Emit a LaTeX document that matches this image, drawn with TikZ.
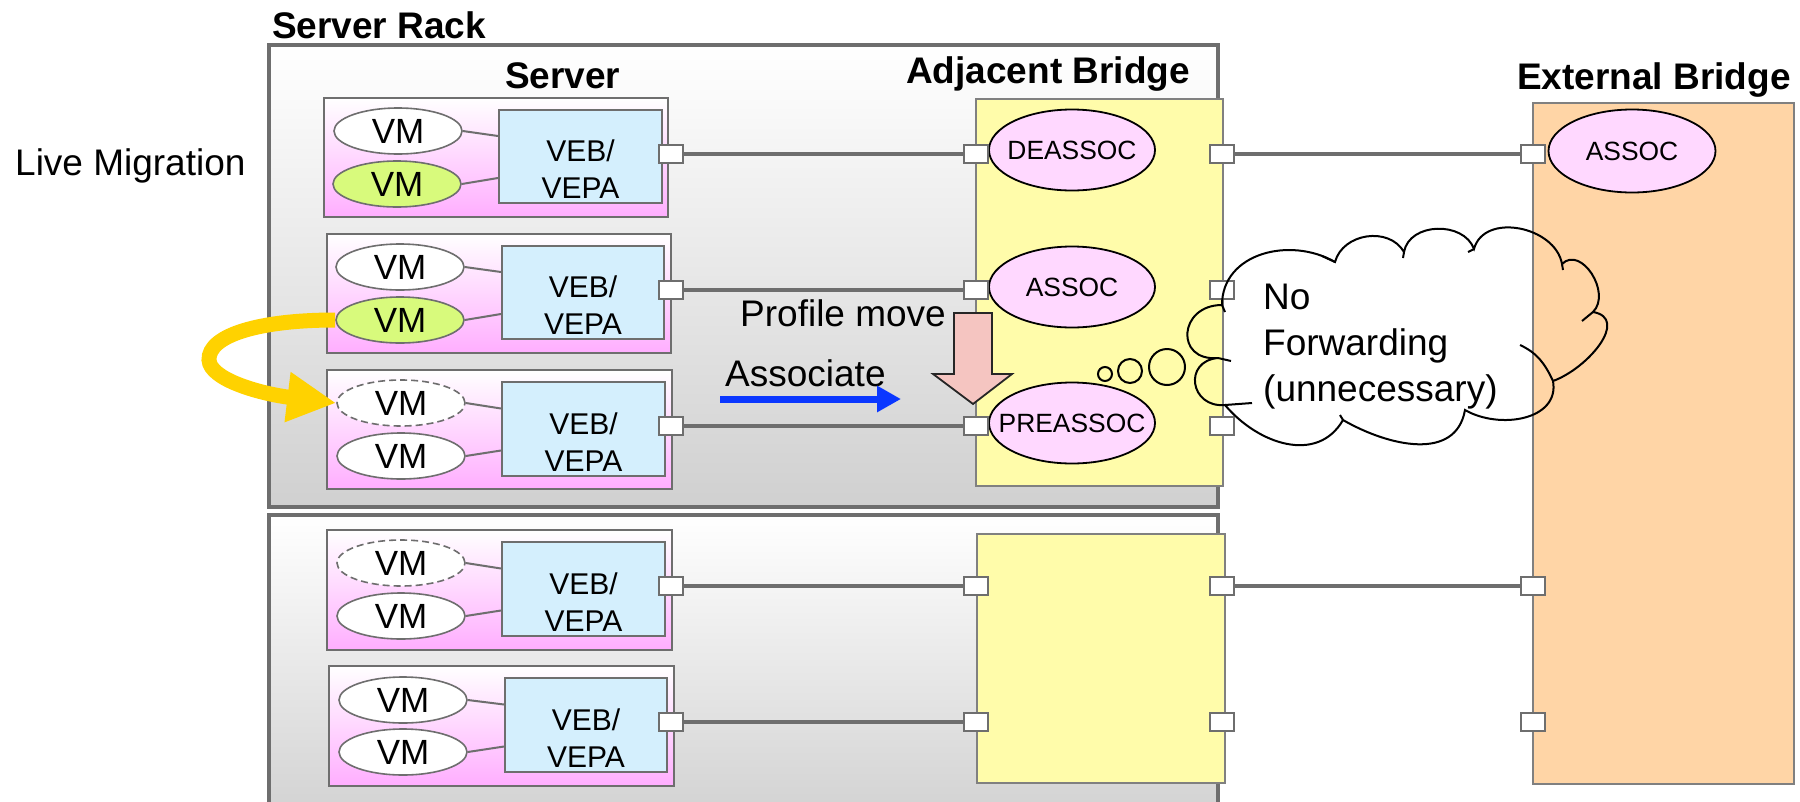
\documentclass[tikz,border=0pt]{standalone}
\usepackage{fontspec}
\setmainfont{Liberation Sans}
\usetikzlibrary{arrows.meta,shapes.geometric}
\definecolor{rackgray}{HTML}{D0D0D0}
\definecolor{edgegray}{HTML}{6E6E6E}
\definecolor{srvpink}{HTML}{FFAEFF}
\definecolor{vebblue}{HTML}{D4EFFD}
\definecolor{vmgreen}{HTML}{D8FA7C}
\definecolor{adjyellow}{HTML}{FFFCAA}
\definecolor{extorange}{HTML}{FFD5A6}
\definecolor{assocpink}{HTML}{FFD8FF}
\definecolor{movepink}{HTML}{F5C5C1}
\definecolor{assocblue}{HTML}{0A37FF}
\definecolor{migyellow}{HTML}{FFD200}
\tikzset{
  rackbox/.style={draw=edgegray, line width=3.5pt, top color=white, bottom color=rackgray},
  srvbox/.style={draw=edgegray, line width=2pt, top color=white, bottom color=srvpink},
  vebbox/.style={rectangle, draw=edgegray, line width=2pt, fill=vebblue, inner sep=0pt},
  vebtext/.style={align=center, inner sep=0pt, font=\fontsize{30}{37}\selectfont},
  vm/.style={ellipse, draw=edgegray, line width=1.6pt, fill=white, minimum width=128pt,
    minimum height=46pt, inner sep=0pt, font=\fontsize{35}{40}\selectfont},
  vmmoving/.style={vm, fill=vmgreen},
  vmghost/.style={vm, dash pattern=on 7pt off 4pt},
  vmlink/.style={draw=edgegray, line width=2pt},
  port/.style={rectangle, draw=edgegray, fill=white, line width=2pt, minimum width=24pt,
    minimum height=18pt, inner sep=0pt},
  link/.style={draw=edgegray, line width=4pt},
  adjbox/.style={rectangle, draw=gray, line width=2pt, fill=adjyellow, inner sep=0pt},
  extbox/.style={rectangle, draw=gray, line width=2pt, fill=extorange, inner sep=0pt},
  state/.style={ellipse, draw=black, line width=1.8pt, fill=assocpink, minimum width=166pt,
    minimum height=81pt, inner sep=0pt, font=\fontsize{26.4}{30}\selectfont},
  titletext/.style={font=\fontsize{37}{44}\selectfont\bfseries, inner sep=0pt, anchor=base west},
  plaintext/.style={font=\fontsize{37}{44}\selectfont, inner sep=0pt, anchor=base west},
  cloudline/.style={draw=black, line width=2pt},
}
\begin{document}
\begin{tikzpicture}[x=1pt,y=-1pt]
\useasboundingbox (0,0) rectangle (1800,801);
\clip (0,0) rectangle (1800,801);

% racks
\path[rackbox] (269,45) rectangle (1218,507);
\path[rackbox] (269,515) rectangle (1218,830);

% titles
\node[titletext] (tRack) at (272,38) {Server Rack};
\node[titletext] (tServer) at (505,88) {Server};
\node[titletext] (tAdj) at (906,83) {Adjacent Bridge};
\node[titletext] (tExt) at (1517,89) {External Bridge};
\node[plaintext] (tLive) at (15,175) {Live Migration};

% server 1
\path[srvbox] (324,98) rectangle (668,217);
\node[vebbox, minimum width=163pt, minimum height=93pt] (veb1) at (580.5,156.5) {};
\node[vebtext] (veb1t) at ([yshift=-13pt]veb1.center) {VEB/\\VEPA};
\node[vm] (vm1a) at (398,131) {VM};
\node[vmmoving] (vm1b) at (397,184) {VM};
\draw[vmlink] (vm1a.east) -- ([yshift=20.5pt]veb1.west);
\draw[vmlink] (vm1b.east) -- ([yshift=-21.5pt]veb1.west);
\node[port] (sp1) at (671,154) {};

% server 2
\path[srvbox] (327,234) rectangle (671,353);
\node[vebbox, minimum width=162pt, minimum height=93pt] (veb2) at (583,292.5) {};
\node[vebtext] (veb2t) at ([yshift=-13pt]veb2.center) {VEB/\\VEPA};
\node[vm] (vm2a) at (400,267) {VM};
\node[vmmoving] (vm2b) at (400,320) {VM};
\draw[vmlink] (vm2a.east) -- ([yshift=20.5pt]veb2.west);
\draw[vmlink] (vm2b.east) -- ([yshift=-21.5pt]veb2.west);
\node[port] (sp2) at (671,290) {};

% server 3
\path[srvbox] (327,370) rectangle (672,489);
\node[vebbox, minimum width=163pt, minimum height=94pt] (veb3) at (583.5,429) {};
\node[vebtext] (veb3t) at ([yshift=-13pt]veb3.center) {VEB/\\VEPA};
\node[vmghost] (vm3a) at (401,403) {VM};
\node[vm] (vm3b) at (401,456) {VM};
\draw[vmlink] (vm3a.east) -- ([yshift=20.5pt]veb3.west);
\draw[vmlink] (vm3b.east) -- ([yshift=-21.5pt]veb3.west);
\node[port] (sp3) at (671,426) {};

% server 4
\path[srvbox] (327,530) rectangle (672,650);
\node[vebbox, minimum width=163pt, minimum height=94pt] (veb4) at (583.5,589) {};
\node[vebtext] (veb4t) at ([yshift=-13pt]veb4.center) {VEB/\\VEPA};
\node[vmghost] (vm4a) at (401,563) {VM};
\node[vm] (vm4b) at (401,616) {VM};
\draw[vmlink] (vm4a.east) -- ([yshift=20.5pt]veb4.west);
\draw[vmlink] (vm4b.east) -- ([yshift=-21.5pt]veb4.west);
\node[port] (sp4) at (671,586) {};

% server 5
\path[srvbox] (329,666) rectangle (674,786);
\node[vebbox, minimum width=162pt, minimum height=94pt] (veb5) at (586,725) {};
\node[vebtext] (veb5t) at ([yshift=-13pt]veb5.center) {VEB/\\VEPA};
\node[vm] (vm5a) at (403,700) {VM};
\node[vm] (vm5b) at (403,752) {VM};
\draw[vmlink] (vm5a.east) -- ([yshift=20.5pt]veb5.west);
\draw[vmlink] (vm5b.east) -- ([yshift=-21.5pt]veb5.west);
\node[port] (sp5) at (671,722) {};

% bridges
\node[adjbox, minimum width=247pt, minimum height=387pt] (ab1) at (1099.5,292.5) {};
\node[adjbox, minimum width=248pt, minimum height=249pt] (ab2) at (1101,658.5) {};
\node[extbox, minimum width=261pt, minimum height=681pt] (eb) at (1663.5,443.5) {};

\node[state] (deassoc) at (1072,150) {\makebox[0pt]{DEASSOC}};
\node[state] (assoc) at (1072,287) {\makebox[0pt]{ASSOC}};
\node[state] (preassoc) at (1072,423) {\makebox[0pt]{PREASSOC}};
\node[state, minimum width=167pt, minimum height=83pt] (extassoc) at (1632,151) {\makebox[0pt]{ASSOC}};

% bridge ports
\node[port] (bl1) at (976,154) {};
\node[port] (bl2) at (976,290) {};
\node[port] (bl3) at (976,426) {};
\node[port] (br1) at (1222,154) {};
\node[port] (br2) at (1222,290) {};
\node[port] (br3) at (1222,426) {};
\node[port] (bl4) at (976,586) {};
\node[port] (bl5) at (976,722) {};
\node[port] (br4) at (1222,586) {};
\node[port] (br5) at (1222,722) {};
\node[port] (ep1) at (1533,154) {};
\node[port] (ep2) at (1533,586) {};
\node[port] (ep3) at (1533,722) {};

% links
\draw[link] (sp1) -- (bl1);
\draw[link] (sp2) -- (bl2);
\draw[link] (sp3) -- (bl3);
\draw[link] (sp4) -- (bl4);
\draw[link] (sp5) -- (bl5);
\draw[link] (br1) -- (ep1);
\draw[link] (br4) -- (ep2);

% profile move arrow
\draw[line width=1.8pt, draw=black!85, fill=movepink]
  (954,313) -- (992,313) -- (992,374) -- (1012,374) -- (973,404) -- (933,374) -- (954,374) -- cycle;
\node[plaintext] (tProfile) at (740,326) {Profile move};

% associate arrow
\node[plaintext] (tAssoc) at (725,386) {Associate};
\coordinate (assocS) at (720,399);
\coordinate (assocE) at (901,399);
\draw[assocblue, line width=7pt, -{Triangle[length=24pt,width=25pt]}] (assocS) -- (assocE);

% live migration arrow
\draw[migyellow, line width=15pt, -{Triangle[length=49pt,width=47pt]}]
  (vm2b.west) .. controls (260,320) and (208,335) .. (209,360)
  .. controls (210,380) and (262,394) .. (vm3a.west);

% thought bubbles
\draw[cloudline] (1105,374) circle[radius=7];
\draw[cloudline] (1130,371) circle[radius=12];
\draw[cloudline] (1167,367) circle[radius=18];

% cloud
\draw[cloudline]
  (1222,305) to[out=90,in=150,looseness=1.1] (1335,262)
  to[out=75,in=120,looseness=1.1] (1404,252)
  to[out=80,in=110,looseness=1.1] (1474,249)
  to[out=75,in=100,looseness=1.1] (1562,264)
  to[out=45,in=45,looseness=1.2] (1593,312)
  to[out=-10,in=20,looseness=1.2] (1553,381)
  to[out=-80,in=-30,looseness=1.1] (1465,410)
  to[out=-100,in=-30,looseness=1.1] (1343,420)
  to[out=-120,in=-50,looseness=1.1] (1225,405)
  to[out=185,in=185,looseness=1.9] (1218,358)
  to[out=185,in=180,looseness=2.1] (1222,305);
% inner stubs of the cloud outline
\draw[cloudline] (1218,358) -- (1231,361);
\draw[cloudline] (1222,305) -- (1225,312);
\draw[cloudline] (1335,262) -- (1322,256);
\draw[cloudline] (1404,252) -- (1403,258);
\draw[cloudline] (1474,249) -- (1468,252);
\draw[cloudline] (1562,264) -- (1563,270);
\draw[cloudline] (1593,312) -- (1582,321);
\draw[cloudline] (1520,345) to[out=-25,in=115] (1553,381);
\draw[cloudline] (1343,420) -- (1340,415);
\draw[cloudline] (1225,405) -- (1252,403);
\node[align=left, inner sep=0pt, anchor=west, font=\fontsize{37}{46}\selectfont] (nofwd)
  at (1263,347) {No\\Forwarding\\(unnecessary)};
\end{tikzpicture}
\end{document}
